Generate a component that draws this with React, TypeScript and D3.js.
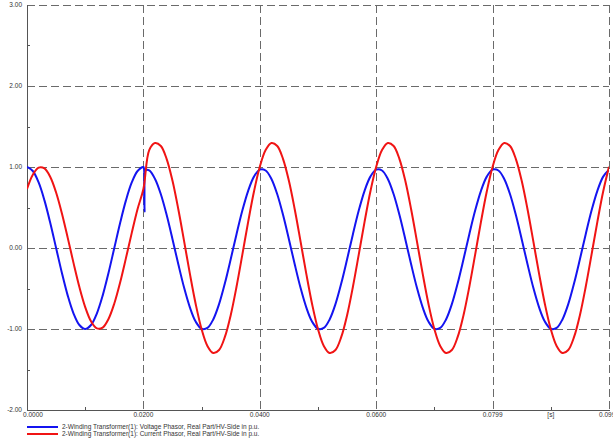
import React from 'react';
import * as d3 from 'd3';

const timeStepS = 0.001;

const voltage = [
  1.000, 0.951, 0.809, 0.588, 0.309, 0.000, -0.309, -0.588, -0.809, -0.951,
  -1.000, -0.951, -0.809, -0.588, -0.309, 0.000, 0.309, 0.588, 0.809, 0.951, 1.000,
  0.957, 0.852, 0.663, 0.406, 0.109, -0.201, -0.492, -0.736, -0.911, -0.997,
  -0.987, -0.882, -0.693, -0.436, -0.139, 0.171, 0.462, 0.706, 0.881, 0.967,
  0.957, 0.852, 0.663, 0.406, 0.109, -0.201, -0.492, -0.736, -0.911, -0.997,
  -0.987, -0.882, -0.693, -0.436, -0.139, 0.171, 0.462, 0.706, 0.881, 0.967,
  0.957, 0.852, 0.663, 0.406, 0.109, -0.201, -0.492, -0.736, -0.911, -0.997,
  -0.987, -0.882, -0.693, -0.436, -0.139, 0.171, 0.462, 0.706, 0.881, 0.967,
  0.957, 0.852, 0.663, 0.406, 0.109, -0.201, -0.492, -0.736, -0.911, -0.997,
  -0.987, -0.882, -0.693, -0.436, -0.139, 0.171, 0.462, 0.706, 0.881, 0.967,
];

const voltageSpike: [number, number][] = [
  [0.0201, 0.98],
  [0.0202, 0.45],
  [0.0204, 0.96],
];

const current = [
  0.729, 0.905, 0.992, 0.982, 0.876, 0.685, 0.426, 0.125, -0.187, -0.482,
  -0.729, -0.905, -0.992, -0.982, -0.876, -0.685, -0.426, -0.125, 0.187, 0.482, 0.729,
  1.209, 1.297, 1.259, 1.098, 0.829, 0.478, 0.082, -0.323, -0.697, -1.002,
  -1.209, -1.297, -1.259, -1.098, -0.829, -0.478, -0.082, 0.323, 0.697, 1.002,
  1.209, 1.297, 1.259, 1.098, 0.829, 0.478, 0.082, -0.323, -0.697, -1.002,
  -1.209, -1.297, -1.259, -1.098, -0.829, -0.478, -0.082, 0.323, 0.697, 1.002,
  1.209, 1.297, 1.259, 1.098, 0.829, 0.478, 0.082, -0.323, -0.697, -1.002,
  -1.209, -1.297, -1.259, -1.098, -0.829, -0.478, -0.082, 0.323, 0.697, 1.002,
  1.209, 1.297, 1.259, 1.098, 0.829, 0.478, 0.082, -0.323, -0.697, -1.002,
  -1.209, -1.297, -1.259, -1.098, -0.829, -0.478, -0.082, 0.323, 0.697, 1.002,
];

const xTickValues = [0, 0.02, 0.04, 0.06, 0.08, 0.1];
const xTickLabels = ['0.0000', '0.0200', '0.0400', '0.0600', '0.0799', '0.0999'];
const xMinorTicks = [0.01, 0.03, 0.05, 0.07, 0.09];
const xUnitLabel = '[s]';
const xUnitAt = 0.09;
const yTickValues = [3, 2, 1, 0, -1, -2];
const yMinorTicks = [2.5, 1.5, 0.5, -0.5, -1.5];
const legendLabels = [
  '2-Winding Transformer(1): Voltage Phasor, Real Part/HV-Side in p.u.',
  '2-Winding Transformer(1): Current Phasor, Real Part/HV-Side in p.u.',
];
const seriesColors = ['#1414f0', '#f01414'];

const W = 613;
const H = 444;
const left = 27;
const right = 609;
const top = 5;
const bottom = 410;
const FONT = '"Liberation Sans", Arial, sans-serif';

export default function App() {
  const x = d3.scaleLinear().domain([0, 0.1]).range([left, right]);
  const y = d3.scaleLinear().domain([-2, 3]).range([bottom, top]);

  const vPts: [number, number][] = voltage.map((v, i) => [i * timeStepS, v] as [number, number]);
  const vAll = vPts.concat(voltageSpike).sort((a, b) => a[0] - b[0]);
  const cPts: [number, number][] = current.map((v, i) => [i * timeStepS, v] as [number, number]);

  const line = d3
    .line<[number, number]>()
    .x((d) => x(d[0]))
    .y((d) => y(d[1]))
    .curve(d3.curveCatmullRom.alpha(0.5));

  const gridColor = '#6a6a6a';
  const axisColor = '#555';
  const textColor = '#333';

  return (
    <div style={{ position: 'absolute', left: 0, top: 0 }}>
      <svg width={W} height={H} style={{ display: 'block', background: '#fff' }}>
        <defs>
          <clipPath id="plotclip">
            <rect x={left} y={top - 2} width={right - left} height={bottom - top + 4} />
          </clipPath>
        </defs>
        {yTickValues
          .filter((v) => v !== -2)
          .map((v) => (
            <line
              key={'hg' + v}
              x1={left}
              x2={right}
              y1={Math.round(y(v)) + 0.5}
              y2={Math.round(y(v)) + 0.5}
              stroke={gridColor}
              strokeWidth={1}
              strokeDasharray="8,4"
            />
          ))}
        {xTickValues
          .filter((v) => v !== 0)
          .map((v) => (
            <line
              key={'vg' + v}
              x1={Math.round(x(v)) + 0.5}
              x2={Math.round(x(v)) + 0.5}
              y1={top}
              y2={bottom}
              stroke={gridColor}
              strokeWidth={1}
              strokeDasharray="8,4"
            />
          ))}
        <line x1={left + 0.5} x2={left + 0.5} y1={top} y2={bottom + 1} stroke={axisColor} strokeWidth={1} />
        <line x1={left} x2={right + 1} y1={bottom + 0.5} y2={bottom + 0.5} stroke={axisColor} strokeWidth={1} />
        {yMinorTicks.map((v) => (
          <line
            key={'ym' + v}
            x1={left}
            x2={left + 3}
            y1={Math.round(y(v)) + 0.5}
            y2={Math.round(y(v)) + 0.5}
            stroke={axisColor}
          />
        ))}
        {xMinorTicks.map((v) => (
          <line
            key={'xm' + v}
            x1={Math.round(x(v)) + 0.5}
            x2={Math.round(x(v)) + 0.5}
            y1={bottom - 3}
            y2={bottom}
            stroke={axisColor}
          />
        ))}
        {yTickValues.map((v) => (
          <text
            key={'yl' + v}
            x={22}
            y={y(v)}
            dy="0.35em"
            textAnchor="end"
            fontFamily={FONT}
            fontSize={6.5}
            fill={textColor}
          >
            {v.toFixed(2)}
          </text>
        ))}
        {xTickValues.map((v, i) => (
          <text
            key={'xl' + v}
            x={i === 0 ? x(v) + 6 : x(v)}
            y={417}
            textAnchor="middle"
            fontFamily={FONT}
            fontSize={6.5}
            fill={textColor}
          >
            {xTickLabels[i]}
          </text>
        ))}
        <text x={x(xUnitAt)} y={417} textAnchor="middle" fontFamily={FONT} fontSize={6.5} fill={textColor}>
          {xUnitLabel}
        </text>
        <g clipPath="url(#plotclip)">
          <path d={line(vAll) || ''} fill="none" stroke={seriesColors[0]} strokeWidth={2} strokeLinejoin="round" />
          <path d={line(cPts) || ''} fill="none" stroke={seriesColors[1]} strokeWidth={2} strokeLinejoin="round" />
        </g>
        {legendLabels.map((lab, i) => (
          <g key={'lg' + i}>
            <line x1={27} x2={58} y1={427 + i * 7} y2={427 + i * 7} stroke={seriesColors[i]} strokeWidth={2} />
            <text x={62} y={427 + i * 7} dy="0.35em" fontFamily={FONT} fontSize={6.5} fill={textColor}>
              {lab}
            </text>
          </g>
        ))}
      </svg>
    </div>
  );
}
